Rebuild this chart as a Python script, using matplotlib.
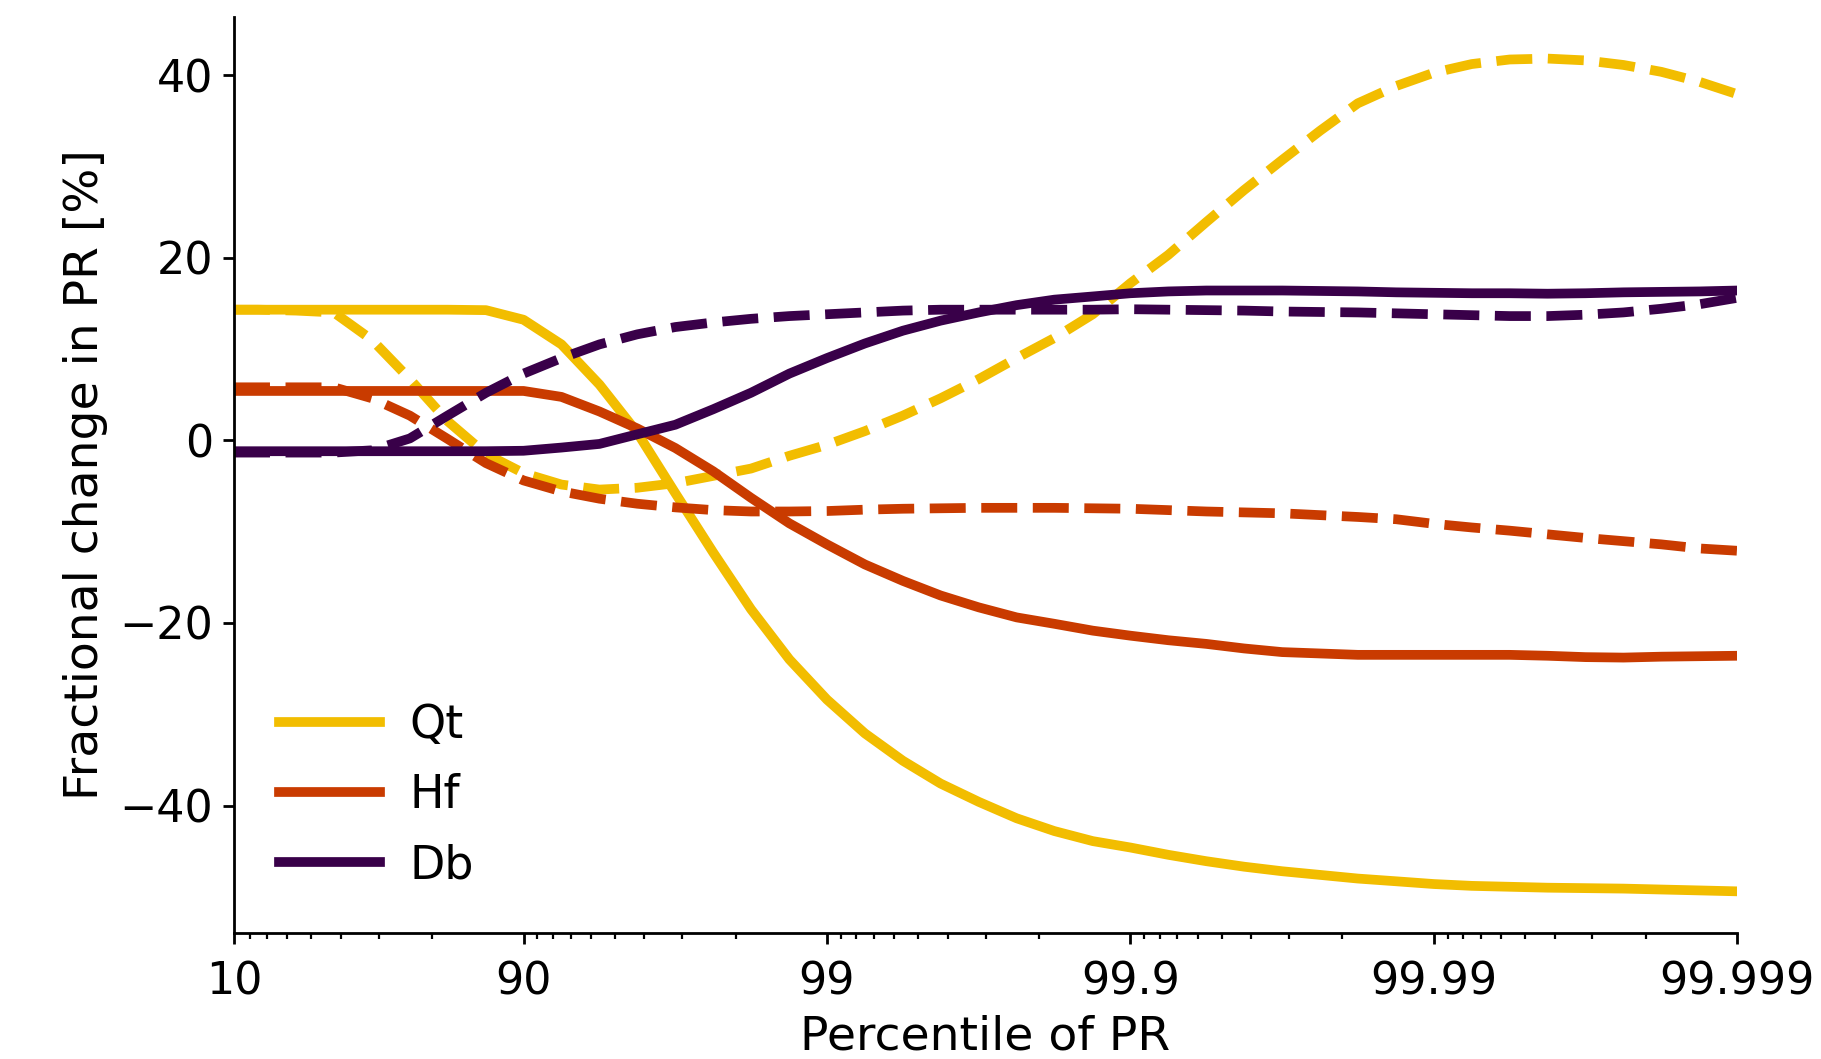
import matplotlib
matplotlib.use("Agg")
from matplotlib import pyplot as plt
from matplotlib.ticker import FixedLocator, LogLocator, NullFormatter

# exceedance probability in % (100 - percentile), log-spaced
exceed = [90, 75, 56.2, 42.2, 31.6, 23.7, 17.8, 13.3,
          10, 7.5, 5.62, 4.22, 3.16, 2.37, 1.78, 1.33,
          1, 0.75, 0.562, 0.422, 0.316, 0.237, 0.178, 0.133,
          0.1, 0.075, 0.0562, 0.0422, 0.0316, 0.0237, 0.0178, 0.0133,
          0.01, 0.0075, 0.00562, 0.00422, 0.00316, 0.00237, 0.00178, 0.00133,
          0.001]

tick_exceed = [90, 10, 1, 0.1, 0.01, 0.001]
tick_labels = ["10", "90", "99", "99.9", "99.99", "99.999"]

qt_solid = [14.3, 14.3, 14.3, 14.3, 14.3, 14.3, 14.3, 14.25, 13.2,
            10.5, 6.1, 0.85, -5.8, -12.3, -18.5, -24.0, -28.4,
            -32.1, -35.1, -37.6, -39.6, -41.4, -42.8, -43.9, -44.6,
            -45.4, -46.1, -46.7, -47.2, -47.6, -48.0, -48.3, -48.6,
            -48.8, -48.9, -49.0, -49.05, -49.1, -49.2, -49.3, -49.4]
qt_dash = [14.3, 14.3, 14.2, 14.0, 11.0, 6.7, 2.1, -1.5, -3.6,
           -4.85, -5.4, -5.2, -4.7, -3.9, -3.1, -1.7, -0.5,
           1.0, 2.7, 4.6, 6.7, 9.0, 11.2, 13.8, 17.2,
           20.3, 23.9, 27.4, 30.7, 33.9, 36.9, 38.8, 40.25,
           41.2, 41.7, 41.8, 41.6, 41.1, 40.35, 39.25, 37.9]
hf_solid = [5.4, 5.4, 5.4, 5.4, 5.4, 5.4, 5.4, 5.4, 5.4,
            4.75, 3.15, 1.3, -0.85, -3.4, -6.3, -9.1, -11.4,
            -13.6, -15.4, -17.0, -18.3, -19.4, -20.1, -20.85, -21.4,
            -21.9, -22.3, -22.8, -23.2, -23.35, -23.5, -23.5, -23.5,
            -23.5, -23.5, -23.6, -23.75, -23.8, -23.7, -23.65, -23.6]
hf_dash = [5.8, 5.8, 5.8, 5.8, 4.6, 2.7, 0.15, -2.5, -4.4,
           -5.6, -6.4, -6.95, -7.35, -7.65, -7.8, -7.8, -7.75,
           -7.6, -7.5, -7.45, -7.4, -7.4, -7.4, -7.45, -7.5,
           -7.65, -7.8, -7.9, -8.0, -8.2, -8.4, -8.65, -9.15,
           -9.55, -9.9, -10.3, -10.7, -11.05, -11.4, -11.85, -12.1]
db_solid = [-1.2, -1.2, -1.2, -1.2, -1.2, -1.2, -1.2, -1.2, -1.15,
            -0.8, -0.4, 0.65, 1.7, 3.4, 5.2, 7.3, 9.0,
            10.6, 12.0, 13.1, 14.0, 14.8, 15.4, 15.75, 16.1,
            16.3, 16.4, 16.4, 16.4, 16.35, 16.3, 16.2, 16.15,
            16.1, 16.1, 16.05, 16.1, 16.2, 16.25, 16.3, 16.4]
db_dash = [-1.35, -1.35, -1.35, -1.35, -1.1, 0.2, 2.7, 5.2, 7.3,
           9.0, 10.5, 11.6, 12.4, 12.9, 13.3, 13.6, 13.8,
           14.0, 14.2, 14.3, 14.3, 14.3, 14.3, 14.3, 14.35,
           14.3, 14.25, 14.2, 14.1, 14.05, 14.0, 13.9, 13.8,
           13.7, 13.6, 13.6, 13.75, 14.0, 14.4, 14.9, 15.6]

names = ["Qt", "Hf", "Db"]
colors = ["#F2BD00", "#C93B00", "#390049"]
solid = [qt_solid, hf_solid, db_solid]
dashed = [qt_dash, hf_dash, db_dash]

lw = 3.5

fig = plt.figure(figsize=(9.105, 5.295), dpi=200)
ax = fig.add_subplot(111)
fig.subplots_adjust(left=0.1285, right=0.954, top=0.984, bottom=0.119)

for name, c, s, d in zip(names, colors, solid, dashed):
    ax.plot(exceed, s, color=c, lw=lw, label=name)
    ax.plot(exceed, d, color=c, lw=lw, ls="--")

ax.set_xscale("log")
ax.set_xlim(90, 0.001)
ax.xaxis.set_major_locator(FixedLocator(tick_exceed))
ax.set_xticklabels(tick_labels)
ax.xaxis.set_minor_locator(LogLocator(base=10, subs=range(2, 10), numticks=20))
ax.xaxis.set_minor_formatter(NullFormatter())
ax.set_yticks([-40, -20, 0, 20, 40])

ax.spines["top"].set_visible(False)
ax.spines["right"].set_visible(False)
for sp in ["left", "bottom"]:
    ax.spines[sp].set_linewidth(1.0)
ax.tick_params(which="major", labelsize=16, length=4, width=1.0)
ax.tick_params(axis="x", which="major", pad=6)
ax.tick_params(which="minor", length=2, width=0.8)

ax.set_xlabel("Percentile of PR", fontsize=17, labelpad=4)
ax.set_ylabel("Fractional change in PR [%]", fontsize=17)

ax.legend(loc="lower left", frameon=False, fontsize=16.5, handlelength=2.2,
          handletextpad=0.65, labelspacing=0.55, borderaxespad=0.58)

fig.savefig("out.png", dpi=200)
